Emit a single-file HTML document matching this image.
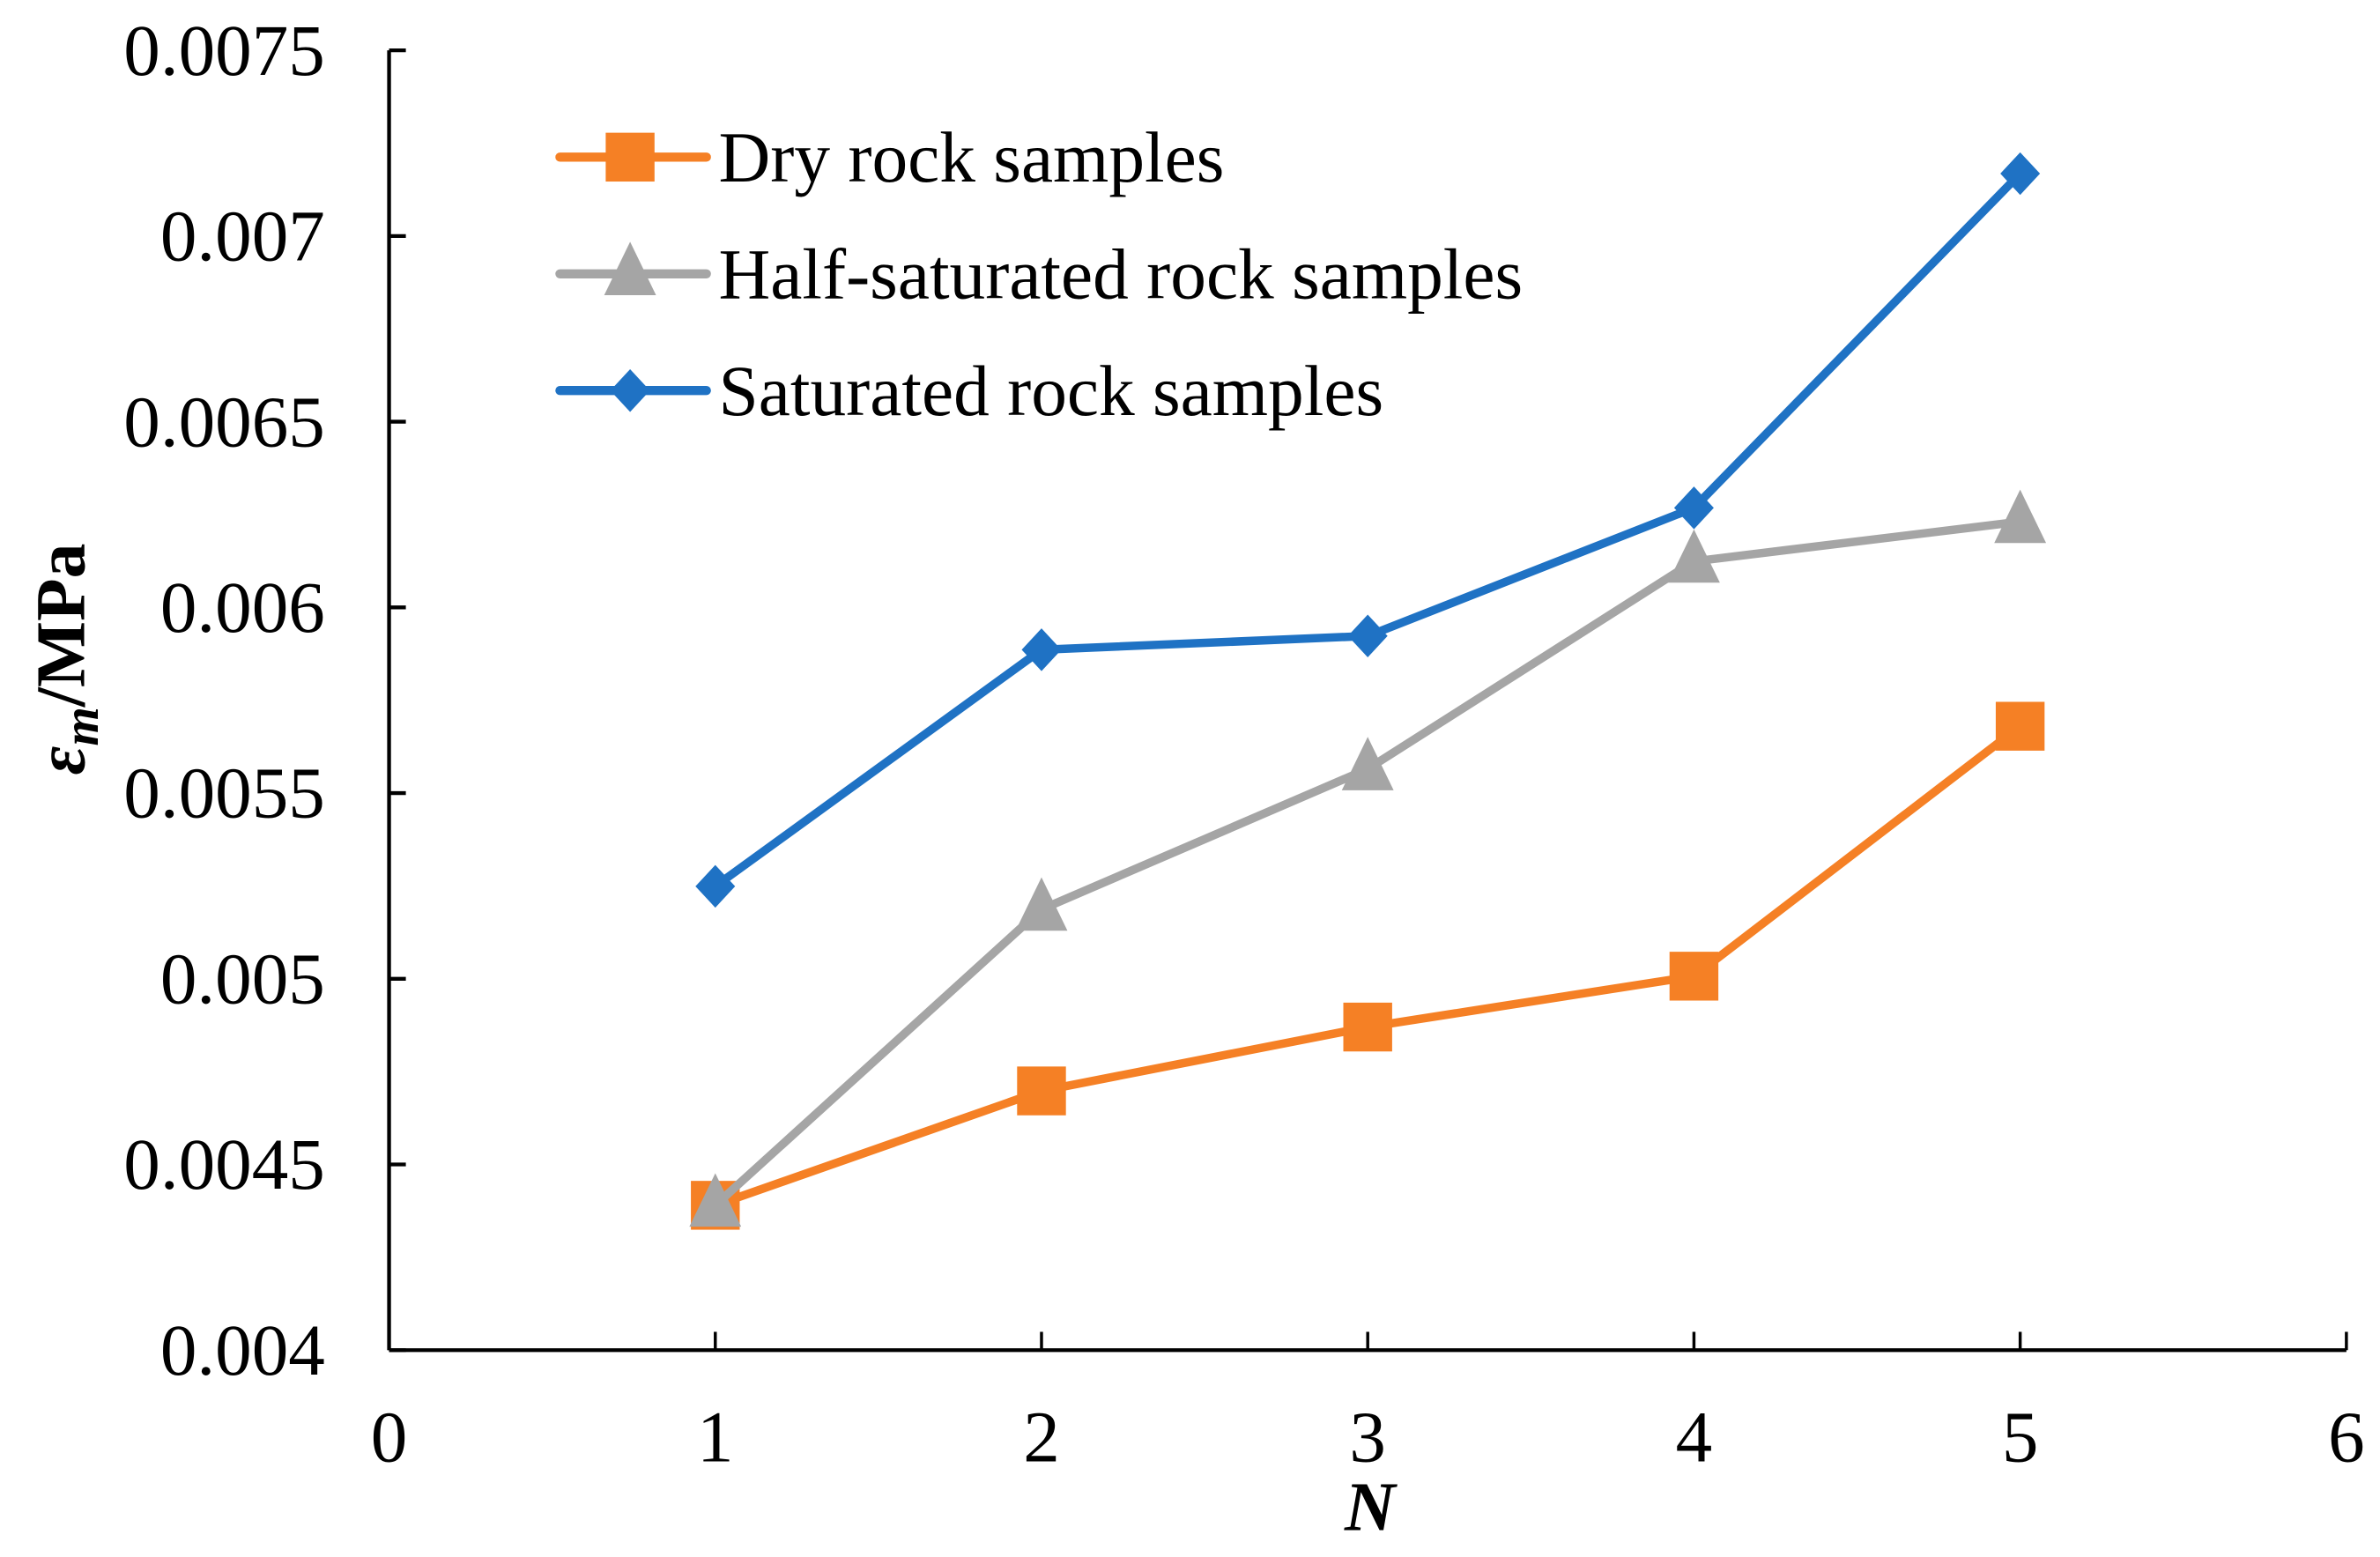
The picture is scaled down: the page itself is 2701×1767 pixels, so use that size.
<!DOCTYPE html>
<html><head><meta charset="utf-8"><style>
html,body{margin:0;padding:0;background:#fff;}
svg{display:block;font-family:"Liberation Serif",serif;}
</style></head><body>
<svg id="chart" width="2701" height="1767" viewBox="0 0 1560 1020.6" xmlns="http://www.w3.org/2000/svg">
<g id="axes"></g>
<g id="series"></g>
<g id="legend"></g>
<text transform="translate(55,432) rotate(-90)" text-anchor="middle" font-size="46" font-weight="bold"><tspan font-style="italic">ε</tspan><tspan font-style="italic" font-size="33" dy="9">m</tspan><tspan dy="-9">/MPa</tspan></text>
<text x="898" y="1003" text-anchor="middle" font-size="46" font-weight="bold" font-style="italic">N</text>
</svg>
<script>
const xTicks = [0,1,2,3,4,5,6];
const yTicks = [0.004,0.0045,0.005,0.0055,0.006,0.0065,0.007,0.0075];
const yTickLabels = ["0.004","0.0045","0.005","0.0055","0.006","0.0065","0.007","0.0075"];
const categories = [1,2,3,4,5];
const dryValues = [0.00439,0.004698,0.00487,0.005007,0.00568];
const halfValues = [0.00439,0.005187,0.005565,0.006124,0.006231];
const satValues = [0.005249,0.005886,0.005923,0.006268,0.007168];
const seriesNames = ["Dry rock samples","Half-saturated rock samples","Saturated rock samples"];

const NS="http://www.w3.org/2000/svg";
const X0=255,X1=1538,Y0=885,Y1=33;
function xs(v){return X0+(v-0)/(6-0)*(X1-X0);}
function ys(v){return Y0-(v-0.004)/(0.0075-0.004)*(Y0-Y1);}
function mk(tag,attrs,parent){const e=document.createElementNS(NS,tag);for(const k in attrs)e.setAttribute(k,attrs[k]);parent.appendChild(e);return e;}
const axes=document.getElementById('axes');
let a=mk('line',{x1:X0,y1:Y1,x2:X0,y2:Y0,stroke:'#000','stroke-width':2.5},axes);


a=mk('line',{x1:X0,y1:Y0,x2:X1,y2:Y0,stroke:'#000','stroke-width':2.5},axes);


yTicks.forEach((v,i)=>{
  const t=mk('line',{x1:X0,y1:ys(v),x2:X0+11,y2:ys(v),stroke:'#000','stroke-width':2.5},axes);
  
  
  const l=mk('text',{x:X0-42,y:ys(v)+16,'text-anchor':'end','font-size':48},axes);
  l.textContent=yTickLabels[i];
  
  
});
xTicks.forEach(v=>{
  const t=mk('line',{x1:xs(v),y1:Y0,x2:xs(v),y2:Y0-12,stroke:'#000','stroke-width':2},axes);
  
  
  const l=mk('text',{x:xs(v),y:Y0+73,'text-anchor':'middle','font-size':48},axes);
  l.textContent=String(v);
  
  
});
function marker(type,cx,cy,color,parent){
  let m;
  if(type==='square') m=mk('rect',{x:cx-16,y:cy-16,width:32,height:32,fill:color},parent);
  else if(type==='triangle') m=mk('polygon',{points:`${cx},${cy-21} ${cx+17},${cy+14} ${cx-17},${cy+14}`,fill:color},parent);
  else m=mk('polygon',{points:`${cx},${cy-14} ${cx+13},${cy} ${cx},${cy+14} ${cx-13},${cy}`,fill:color},parent);
  return m;
}
const ser=document.getElementById('series');
const defs=[[dryValues,'#f58025','square','dry'],[halfValues,'#a5a5a5','triangle','half-saturated'],[satValues,'#1f72c4','diamond','saturated']];
defs.forEach(([vals,col,type,name])=>{
  const g=mk('g',{},ser);
  
  
  const p=mk('polyline',{points:categories.map((c,i)=>xs(c)+','+ys(vals[i])).join(' '),fill:'none',stroke:col,'stroke-width':5.5,'stroke-linejoin':'round'},g);
  
  
  categories.forEach((c,i)=>{
    const m=marker(type,xs(c),ys(vals[i]),col,g);
    
    
  });
});
const leg=document.getElementById('legend');
defs.forEach(([vals,col,type,name],i)=>{
  const y=103+i*76.5;
  const g=mk('g',{},leg);
  
  
  mk('line',{x1:367,y1:y,x2:463,y2:y,stroke:col,'stroke-width':6,'stroke-linecap':'round'},g);
  marker(type,413,y,col,g);
  const t=mk('text',{x:471,y:y+16,'font-size':47},g);
  t.textContent=seriesNames[i];
  
  
});
</script>
</body></html>
